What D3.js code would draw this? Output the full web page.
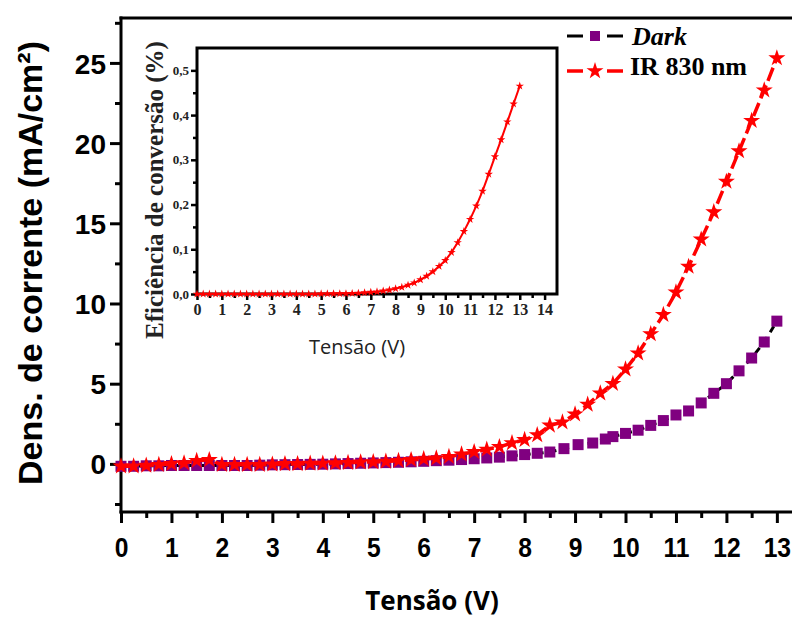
<!DOCTYPE html>
<html><head><meta charset="utf-8">
<script src="https://cdn.jsdelivr.net/npm/d3@7"></script>
<style>body{margin:0;background:#fff}svg{display:block}</style>
</head><body>
<svg id="chart" width="792" height="617"></svg>
<script>
// ---- data ----
const irVolt = [0,0.25,0.5,0.75,1,1.25,1.5,1.75,2,2.25,2.5,2.75,3,3.25,3.5,3.75,4,4.25,4.5,4.75,5,5.25,5.5,5.75,6,6.25,6.5,6.75,7,7.25,7.5,7.75,8,8.25,8.5,8.75,9,9.25,9.5,9.75,10,10.25,10.5,10.75,11,11.25,11.5,11.75,12,12.25,12.5,12.75,13];
const irCurrent = [-0.15,-0.15,-0.1,-0.05,0,0.05,0.2,0.25,-0.05,-0.05,-0.05,-0.05,-0.03,0,0,0.02,0.03,0.05,0.07,0.1,0.12,0.15,0.2,0.25,0.3,0.35,0.45,0.6,0.75,0.9,1.06,1.3,1.5,1.8,2.4,2.6,3.1,3.7,4.4,5.0,5.9,6.9,8.1,9.3,10.7,12.3,14.0,15.7,17.6,19.5,21.4,23.3,25.3];
const darkVolt = [0,0.25,0.5,0.75,1,1.25,1.5,1.75,2,2.25,2.5,2.75,3,3.25,3.5,3.75,4,4.25,4.5,4.75,5,5.25,5.5,5.75,6,6.25,6.5,6.75,7,7.25,7.5,7.75,8,8.25,8.5,8.78,9.06,9.35,9.6,9.75,10,10.25,10.5,10.75,11,11.25,11.5,11.75,12,12.25,12.5,12.75,13];
const darkCurrent = [-0.15,-0.15,-0.12,-0.12,-0.1,-0.1,-0.1,-0.1,-0.1,-0.1,-0.1,-0.08,-0.06,-0.05,-0.04,-0.03,-0.02,0,0.02,0.04,0.06,0.08,0.1,0.13,0.16,0.2,0.23,0.27,0.32,0.37,0.42,0.5,0.58,0.66,0.74,0.95,1.2,1.3,1.55,1.7,1.9,2.1,2.4,2.7,3.05,3.3,3.8,4.4,5.0,5.8,6.6,7.6,8.9];
const effVolt = irVolt;
const efficiency = [0,0,0,0,0,0,0,0,0,0,0,0,0,0,0,0,0,0,0,0,0.0005,0.0005,0.0007,0.0009,0.001,0.0015,0.002,0.003,0.004,0.005,0.007,0.009,0.012,0.015,0.02,0.025,0.032,0.04,0.05,0.062,0.075,0.093,0.115,0.14,0.167,0.197,0.23,0.268,0.307,0.345,0.385,0.425,0.465];
const mainYTicks = [0,5,10,15,20,25];
const mainXTicks = [0,1,2,3,4,5,6,7,8,9,10,11,12,13];
const insetXTicks = [0,1,2,3,4,5,6,7,8,9,10,11,12,13,14];
const insetYTicks = [0,0.1,0.2,0.3,0.4,0.5];
const seriesNames = ["Dark","IR 830 nm"];

const svg = d3.select("#chart");
const sans = "'Liberation Sans', Arial, sans-serif";
const serif = "'Liberation Serif', 'Times New Roman', serif";

// ---- main scales ----
const x = d3.scaleLinear().domain([0,13.3]).range([121,792]);
const y = d3.scaleLinear().domain([-3,27.8]).range([512,18]);

// axes
const gx = svg.append("g").attr("transform","translate(0,512)");
gx.call(d3.axisBottom(x).tickValues(mainXTicks).tickSize(11).tickFormat(d3.format("d")));
gx.append("g").call(d3.axisBottom(x).tickValues(d3.range(0.5,13.3,1)).tickSize(6).tickFormat(""));
const gy = svg.append("g").attr("transform","translate(121,0)");
gy.call(d3.axisLeft(y).tickValues(mainYTicks).tickSize(11).tickFormat(d3.format("d")));
gy.append("g").call(d3.axisLeft(y).tickValues([-2.5,2.5,7.5,12.5,17.5,22.5,27.5]).tickSize(6).tickFormat(""));
[gx,gy].forEach(g=>{
  g.selectAll(".domain").remove();
  g.selectAll("line").attr("stroke","#000").attr("stroke-width",3);
});
gx.selectAll("text").attr("font-family",sans).attr("font-weight","bold").attr("font-size",28).attr("fill","#000")
  .attr("y",0).attr("dy",0)
  .attr("transform",function(){ return "translate(0,557) scale(0.88,1)"; })
  .attr("x",function(d){ return 0; });
// place x labels with condensed scaling around their tick positions
gx.selectAll(".tick").each(function(d){
  d3.select(this).select("text").attr("transform",`translate(0,45) scale(0.88,1)`);
});
gy.selectAll("text").attr("font-family",sans).attr("font-weight","bold").attr("font-size",28).attr("fill","#000").attr("x",-15).attr("dy","0.36em");
// frame lines
svg.append("line").attr("x1",x(0)).attr("x2",x(0)).attr("y1",y(-3)+1.5).attr("y2",y(27.8)-1.5).attr("stroke","#000").attr("stroke-width",3);
svg.append("line").attr("x1",x(0)-1.5).attr("x2",x(13.3)).attr("y1",y(-3)).attr("y2",y(-3)).attr("stroke","#000").attr("stroke-width",3);
svg.append("line").attr("x1",x(0)-1.5).attr("x2",x(13.3)).attr("y1",y(27.8)).attr("y2",y(27.8)).attr("stroke","#000").attr("stroke-width",3);

// titles
svg.append("text").attr("transform","translate(42,263) rotate(-90)").attr("text-anchor","middle")
  .attr("font-family",sans).attr("font-weight","bold").attr("font-size",34).text("Dens. de corrente (mA/cm²)");
svg.append("text").attr("x",432).attr("y",610).attr("text-anchor","middle")
  .attr("font-family","'Open Sans', sans-serif").attr("font-weight","bold").attr("font-size",26).text("Tensão (V)");

// ---- series ----
const darkData = darkVolt.map((v,i)=>({v, j: darkCurrent[i]}));
const irData = irVolt.map((v,i)=>({v, j: irCurrent[i]}));
const line = d3.line().x(d=>x(d.v)).y(d=>y(d.j));
svg.append("path").datum(darkData).attr("d",line).attr("fill","none").attr("stroke","#000").attr("stroke-width",3).attr("stroke-dasharray","7,6");
svg.selectAll(".sq").data(darkData).join("rect").attr("class","sq")
  .attr("x",d=>x(d.v)-5.5).attr("y",d=>y(d.j)-5.5).attr("width",11).attr("height",11).attr("fill","#800080");
svg.append("path").datum(irData).attr("d",line).attr("fill","none").attr("stroke","#ff0000").attr("stroke-width",3.5).attr("stroke-dasharray","14,5");
const star = d3.symbol().type(d3.symbolStar).size(90);
svg.selectAll(".st").data(irData).join("path").attr("class","st")
  .attr("transform",d=>`translate(${x(d.v)},${y(d.j)})`).attr("d",star).attr("fill","#ff0000");

// ---- legend ----
const lg = svg.append("g");
lg.append("line").attr("x1",567).attr("x2",623).attr("y1",36).attr("y2",36).attr("stroke","#000").attr("stroke-width",3).attr("stroke-dasharray","16,24,16");
lg.append("rect").attr("x",590).attr("y",31).attr("width",10).attr("height",10).attr("fill","#800080");
lg.append("text").attr("x",632).attr("y",45).attr("font-family",serif).attr("font-weight","bold").attr("font-style","italic").attr("font-size",26).text(seriesNames[0]);
lg.append("line").attr("x1",567).attr("x2",623).attr("y1",71).attr("y2",71).attr("stroke","#ff0000").attr("stroke-width",3.5).attr("stroke-dasharray","16,24,16");
lg.append("path").attr("transform","translate(595,71)").attr("d",star).attr("fill","#ff0000");
lg.append("text").attr("x",630).attr("y",75).attr("font-family",serif).attr("font-weight","bold").attr("font-size",26).text(seriesNames[1]);

// ---- inset ----
const ix = d3.scaleLinear().domain([0,14.5]).range([197,557]);
const iy = d3.scaleLinear().domain([0,0.55]).range([294,48]);
const ig = svg.append("g");
ig.append("rect").attr("x",ix(0)).attr("y",iy(0.55)).attr("width",ix(14.5)-ix(0)).attr("height",iy(0)-iy(0.55))
  .attr("fill","#fff").attr("stroke","#000").attr("stroke-width",3);
const igx = ig.append("g").attr("transform",`translate(0,${iy(0)})`);
igx.call(d3.axisBottom(ix).tickValues(insetXTicks).tickSize(6).tickFormat(d3.format("d")));
igx.append("g").call(d3.axisBottom(ix).tickValues(d3.range(0.5,14.5,1)).tickSize(4).tickFormat(""));
const igy = ig.append("g").attr("transform",`translate(${ix(0)},0)`);
igy.call(d3.axisLeft(iy).tickValues(insetYTicks).tickSize(6).tickFormat(d=>d3.format(".1f")(d).replace(".",",")));
igy.append("g").call(d3.axisLeft(iy).tickValues([0.05,0.15,0.25,0.35,0.45]).tickSize(4).tickFormat(""));
[igx,igy].forEach(g=>{
  g.selectAll(".domain").remove();
  g.selectAll("line").attr("stroke","#000").attr("stroke-width",2.5);
});
igx.selectAll("text").attr("font-family",serif).attr("font-weight","bold").attr("font-size",16).attr("fill","#222").attr("y",10).attr("dy","0.71em");
igy.selectAll("text").attr("font-family",serif).attr("font-weight","bold").attr("font-size",13).attr("fill","#222").attr("x",-8);
const effData = effVolt.map((v,i)=>({v, e: efficiency[i]}));
ig.append("path").datum(effData).attr("d",d3.line().x(d=>ix(d.v)).y(d=>iy(d.e))).attr("fill","none").attr("stroke","#ff0000").attr("stroke-width",2);
const smallStar = d3.symbol().type(d3.symbolStar).size(22);
ig.selectAll(".ist").data(effData).join("path").attr("class","ist")
  .attr("transform",d=>`translate(${ix(d.v)},${iy(d.e)})`).attr("d",smallStar).attr("fill","#ff0000");
ig.append("text").attr("transform","translate(163,190) rotate(-90)").attr("text-anchor","middle")
  .attr("font-family",serif).attr("font-weight","bold").attr("font-size",25).attr("fill","#222").text("Eficiência de conversão (%)");
ig.append("text").attr("x",357).attr("y",354).attr("text-anchor","middle")
  .attr("font-family","'Open Sans', sans-serif").attr("font-size",20).attr("fill","#222").text("Tensão (V)");
</script>
</body></html>
